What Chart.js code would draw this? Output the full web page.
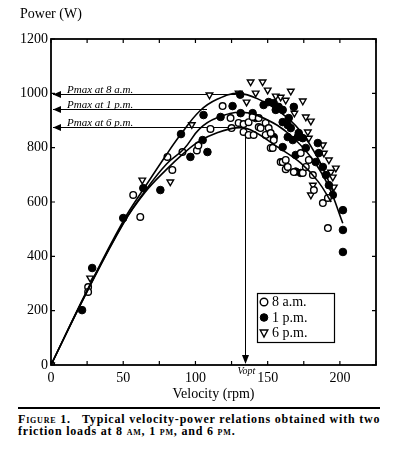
<!DOCTYPE html>
<html>
<head>
<meta charset="utf-8">
<script src="https://cdn.jsdelivr.net/npm/chart.js@4.4.0/dist/chart.umd.min.js"></script>
<style>
  body { margin: 0; background: #fff; }
  #c { display: block; }
  #rule { margin: 2px 0 0 18px; width: 362px; height: 2px; background: #000; }
  #cap { margin: 4px 0 0 18px; width: 378px; font: bold 12px/12px "Liberation Serif", serif; letter-spacing: 0.8px; color: #000; white-space: nowrap; }
  .sc { font-variant: small-caps; }
</style>
</head>
<body>
<canvas id="c" width="398" height="405"></canvas>
<div id="rule"></div>
<div id="cap"><span class="sc">Figure 1.</span>&nbsp;&nbsp; Typical velocity-power relations obtained with two<br>friction loads at 8 <span class="sc">am</span>, 1 <span class="sc">pm</span>, and 6 <span class="sc">pm</span>.</div>
<script>
// 8 a.m. – open circles
const amV = [0, 25.7, 25.7, 56.9, 61.8, 80.6, 84.0, 91.0, 101.0, 102.0, 110.4, 118.8, 124.3, 125.0, 129.9, 133.3, 133.3, 136.8, 136.8, 139.6, 140.3, 143.8, 143.8, 145.1, 148.6, 148.6, 150.7, 152.1, 152.1, 153.5, 154.2, 159.0, 160.4, 162.5, 162.5, 163.9, 168.1, 172.9, 174.3, 176.4, 178.5, 181.3, 182.0, 188.2, 191.7, 191.7];
const amP = [0, 287, 269, 626, 545, 766, 718, 784, 790, 808, 869, 953, 909, 872, 891, 887, 858, 894, 847, 913, 847, 876, 909, 872, 891, 847, 872, 854, 799, 799, 828, 747, 747, 755, 721, 729, 710, 780, 707, 729, 755, 699, 644, 596, 615, 504];

// 1 p.m. – filled circles
const pmV = [0, 21.5, 28.5, 50.0, 63.9, 75.7, 90.0, 96.5, 105.0, 105.6, 108.3, 117.4, 125.7, 131.0, 131.3, 139.6, 141.7, 147.2, 150.7, 154.2, 154.2, 155.6, 157.6, 160.4, 160.4, 160.4, 163.9, 163.9, 164.6, 166.0, 167.4, 168.1, 169.4, 169.4, 170.8, 171.5, 172.9, 174.3, 176.4, 183.3, 184.7, 185.4, 188.2, 190.3, 192.4, 195.1, 202.1, 202.1, 202.1];
const pmP = [0, 202, 357, 541, 651, 644, 850, 766, 828, 920, 784, 913, 953, 995, 927, 927, 909, 957, 968, 964, 839, 939, 950, 939, 894, 802, 883, 839, 909, 872, 828, 950, 712, 773, 839, 854, 707, 835, 799, 747, 817, 780, 729, 699, 662, 626, 570, 497, 416];

// 6 p.m. – open triangles
const eveV = [0, 27.1, 63.2, 82.6, 97.5, 109.7, 129.9, 135.4, 138.2, 141.7, 146.5, 150.0, 155.6, 159.0, 162.5, 166.0, 168.5, 174.3, 176.4, 177.8, 178.5, 179.9, 179.9, 181.3, 188.2, 188.9, 192.4, 193.8, 195.1, 195.8, 197.2];
const eveP = [0, 320, 681, 674, 885, 994, 1001, 968, 1042, 1001, 1042, 1012, 990, 986, 975, 1008, 927, 972, 913, 858, 835, 898, 626, 662, 810, 780, 755, 710, 692, 655, 725];

// fitted curves
const fitAmV = [0, 25, 50, 65, 80, 92, 103, 115, 128, 138, 157, 173, 185, 194];
const fitAmP = [0, 270, 520, 635, 720, 780, 825, 855, 873, 866, 802, 743, 675, 600];
const fitPmV = [0, 25, 50, 65, 80, 92, 103, 115, 133, 150, 164, 180, 192, 202];
const fitPmP = [0, 272, 522, 640, 740, 795, 870, 910, 930, 902, 854, 765, 660, 522];
const fitEveV = [0, 25, 50, 65, 80, 90, 103, 115, 130, 145, 160, 172, 185, 197];
const fitEveP = [0, 275, 530, 655, 775, 850, 935, 978, 1000, 975, 925, 865, 760, 615];

// annotations
const pmaxLabels = ['Pmax at 8 a.m.', 'Pmax at 1 p.m.', 'Pmax at 6 p.m.'];
const pmaxValues = [997, 942, 876];
const pmaxEnds = [128, 108, 125];
const voptValue = 134;
const voptTop = 862;
const legendLabels = ['8 a.m.', '1 p.m.', '6 p.m.'];

const serif = '"Liberation Serif", "Times New Roman", serif';

function pairs(xs, ys) {
    return xs.map((x, i) => ({ x: x, y: ys[i] }));
}

function fitLine(xs, ys) {
    return {
        type: 'line',
        data: pairs(xs, ys),
        borderColor: '#000',
        borderWidth: 1.6,
        pointRadius: 0,
        tension: 0.4,
        fill: false
    };
}

const scatterSets = [
    { data: pairs(amV, amP), pointStyle: 'circle', pointRadius: 3.3, backgroundColor: '#fff', borderColor: '#000', borderWidth: 1.4 },
    { data: pairs(pmV, pmP), pointStyle: 'circle', pointRadius: 3.8, backgroundColor: '#000', borderColor: '#000', borderWidth: 1 },
    { data: pairs(eveV, eveP), pointStyle: 'triangle', pointRotation: 180, pointRadius: 3.8, backgroundColor: '#fff', borderColor: '#000', borderWidth: 1.4 }
];

function arrowHead(ctx, x, y, dir) {
    // dir: 'left' or 'down', (x, y) is the tip
    ctx.beginPath();
    if (dir === 'left') {
        ctx.moveTo(x, y);
        ctx.lineTo(x + 8, y - 3.5);
        ctx.lineTo(x + 8, y + 3.5);
    } else {
        ctx.moveTo(x, y);
        ctx.lineTo(x - 3.5, y - 9);
        ctx.lineTo(x + 3.5, y - 9);
    }
    ctx.closePath();
    ctx.fill();
}

const decor = {
    id: 'decor',
    beforeDatasetsDraw(chart) {
        const ctx = chart.ctx;
        const xs = chart.scales.x, ys = chart.scales.y;
        const left = chart.chartArea.left;
        ctx.save();
        ctx.strokeStyle = '#000';
        ctx.fillStyle = '#000';
        ctx.lineWidth = 1;
        // Pmax guide lines
        pmaxValues.forEach((p, i) => {
            const y = Math.round(ys.getPixelForValue(p)) + 0.5;
            ctx.beginPath();
            ctx.moveTo(left + 2, y);
            ctx.lineTo(xs.getPixelForValue(pmaxEnds[i]), y);
            ctx.stroke();
            arrowHead(ctx, left + 2, y, 'left');
            ctx.font = 'italic 11px ' + serif;
            ctx.textAlign = 'left';
            ctx.textBaseline = 'alphabetic';
            ctx.fillText(pmaxLabels[i], left + 16, y - 1.5);
        });
        // Vopt drop line
        const vx = Math.round(xs.getPixelForValue(voptValue)) + 0.5;
        const bottom = ys.getPixelForValue(0);
        ctx.beginPath();
        ctx.moveTo(vx, ys.getPixelForValue(voptTop));
        ctx.lineTo(vx, bottom - 2);
        ctx.stroke();
        arrowHead(ctx, vx, bottom - 1, 'down');
        ctx.font = 'italic 10px ' + serif;
        ctx.textAlign = 'center';
        ctx.textBaseline = 'middle';
        ctx.fillText('Vopt', vx + 1, bottom + 6);
        ctx.restore();
    },
    afterDatasetsDraw(chart) {
        const ctx = chart.ctx;
        const a = chart.chartArea;
        const xs = chart.scales.x, ys = chart.scales.y;
        ctx.save();
        ctx.strokeStyle = '#000';
        ctx.fillStyle = '#000';
        // frame
        ctx.lineWidth = 1.8;
        ctx.strokeRect(a.left, a.top, a.right - a.left, a.bottom - a.top);
        // inward ticks
        ctx.lineWidth = 1.2;
        ctx.beginPath();
        xs.ticks.forEach(t => {
            const x = xs.getPixelForValue(t.value);
            ctx.moveTo(x, a.bottom); ctx.lineTo(x, a.bottom - 4);
            ctx.moveTo(x, a.top); ctx.lineTo(x, a.top + 4);
        });
        ys.ticks.forEach(t => {
            const y = ys.getPixelForValue(t.value);
            ctx.moveTo(a.left, y); ctx.lineTo(a.left + 4, y);
            ctx.moveTo(a.right, y); ctx.lineTo(a.right - 4, y);
        });
        ctx.stroke();
        // y axis title
        ctx.font = '14px ' + serif;
        ctx.textAlign = 'left';
        ctx.textBaseline = 'middle';
        ctx.fillText('Power (W)', 20, 14);
        // legend box
        const bx = a.left + 206, by = a.top + 254, bw = 77, bh = 49;
        ctx.fillStyle = '#fff';
        ctx.fillRect(bx, by, bw, bh);
        ctx.lineWidth = 1.2;
        ctx.strokeRect(bx + 0.5, by + 0.5, bw, bh);
        ctx.font = '14px ' + serif;
        scatterSets.forEach((s, i) => {
            const cy = by + 9 + i * 15.5;
            ctx.fillStyle = s.backgroundColor;
            ctx.strokeStyle = '#000';
            ctx.lineWidth = s.borderWidth;
            ctx.beginPath();
            if (s.pointStyle === 'circle') {
                ctx.arc(bx + 7, cy, 3.8, 0, Math.PI * 2);
            } else {
                ctx.moveTo(bx + 3.2, cy - 3);
                ctx.lineTo(bx + 10.8, cy - 3);
                ctx.lineTo(bx + 7, cy + 4);
                ctx.closePath();
            }
            ctx.fill();
            ctx.stroke();
            ctx.fillStyle = '#000';
            ctx.textAlign = 'left';
            ctx.textBaseline = 'middle';
            ctx.fillText(legendLabels[i], bx + 15, cy + 0.5);
        });
        ctx.restore();
    }
};

new Chart(document.getElementById('c'), {
    type: 'scatter',
    data: {
        datasets: [
            fitLine(fitAmV, fitAmP),
            fitLine(fitPmV, fitPmP),
            fitLine(fitEveV, fitEveP),
            ...scatterSets
        ]
    },
    options: {
        responsive: false,
        animation: false,
        devicePixelRatio: 1,
        layout: { padding: { left: 0, right: 22, top: 39, bottom: 0 } },
        plugins: {
            legend: { display: false },
            tooltip: { enabled: false }
        },
        scales: {
            x: {
                type: 'linear',
                min: 0,
                max: 225,
                grid: { display: false, drawTicks: false },
                border: { display: false },
                ticks: {
                    stepSize: 25,
                    padding: 5,
                    color: '#000',
                    font: { family: serif, size: 14 },
                    maxRotation: 0,
                    autoSkip: false,
                    callback: v => (v % 50 === 0 ? String(v) : '')
                },
                title: {
                    display: true,
                    text: 'Velocity (rpm)',
                    color: '#000',
                    font: { family: serif, size: 14 },
                    padding: { top: 0, bottom: 2 }
                },
                afterFit: s => { s.height = 40; }
            },
            y: {
                min: 0,
                max: 1200,
                grid: { display: false, drawTicks: false },
                border: { display: false },
                ticks: {
                    stepSize: 200,
                    padding: 3,
                    color: '#000',
                    font: { family: serif, size: 14 },
                    callback: v => String(v)
                },
                afterFit: s => { s.height; s.width = 51; }
            }
        }
    },
    plugins: [decor]
});
</script>
</body>
</html>
